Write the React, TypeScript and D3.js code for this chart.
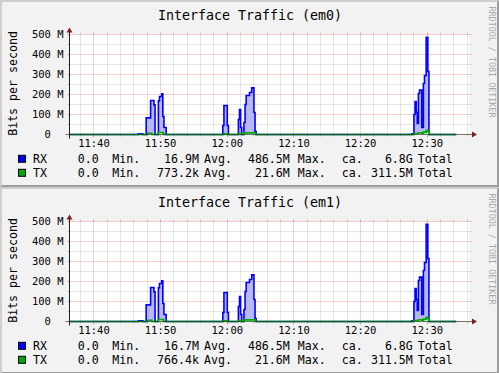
import React from 'react';
import * as d3 from 'd3';

// ---- data ----
const interfaceNames = ['em0', 'em1'];
const seriesNames = ['RX', 'TX'];
const em0Stats = [
  ['0.0', '16.9M', '486.5M', '6.8G'],
  ['0.0', '773.2k', '21.6M', '311.5M'],
];
const em1Stats = [
  ['0.0', '16.7M', '486.5M', '6.8G'],
  ['0.0', '766.4k', '21.6M', '311.5M'],
];
// step data: [time, Mbit/s]
const rxSteps: [string, number][] = [
  ['11:36:20', 0],
  ['11:46:40', 4], ['11:47:20', 0],
  ['11:47:50', 83], ['11:48:30', 170], ['11:49:00', 148], ['11:49:10', 0],
  ['11:49:40', 168], ['11:49:50', 190], ['11:50:10', 203], ['11:50:20', 90], ['11:50:30', 35], ['11:50:50', 0],
  ['11:59:20', 45], ['11:59:30', 145], ['12:00:00', 45], ['12:00:10', 0],
  ['12:01:40', 75], ['12:01:50', 125], ['12:02:00', 35], ['12:02:10', 0],
  ['12:02:30', 60], ['12:02:40', 150], ['12:02:50', 195], ['12:03:20', 210], ['12:03:40', 233], ['12:04:00', 110], ['12:04:10', 15], ['12:04:20', 0],
  ['12:27:40', 3], ['12:28:00', 100], ['12:28:10', 165], ['12:28:20', 110], ['12:28:30', 55], ['12:28:40', 205], ['12:28:50', 222], ['12:29:10', 35], ['12:29:25', 255], ['12:29:35', 295], ['12:29:50', 486.5], ['12:30:05', 315], ['12:30:15', 0],
  ['12:34:20', 0],
];
const txSteps: [string, number][] = [
  ['11:36:20', 0],
  ['11:48:05', 6], ['11:48:40', 0],
  ['11:49:40', 10], ['11:50:25', 0],
  ['11:59:30', 4], ['12:00:00', 0],
  ['12:01:40', 4], ['12:02:10', 0],
  ['12:02:30', 8], ['12:04:15', 0],
  ['12:28:00', 5], ['12:28:40', 9], ['12:29:10', 6], ['12:29:25', 12], ['12:29:50', 21.6], ['12:30:05', 15], ['12:30:15', 0],
  ['12:34:20', 0],
];
const yTicks = [0, 100, 200, 300, 400, 500];
const xTickLabels = ['11:40', '11:50', '12:00', '12:10', '12:20', '12:30'];
const timeRange = ['11:36:20', '12:36:20'];

// ---- layout ----
const W = 499;
const H = 373;
const GH = 187;
const X0 = 69.5, X1 = 469.5, Y0 = 134.5, YT = 34.5;
const FONT = '"DejaVu Sans Mono", monospace';

const parseT = d3.timeParse('%H:%M:%S');
const parseHM = d3.timeParse('%H:%M');

const COLORS = {
  back: '#f2f2f2',
  shadeA: '#cfcfcf',
  shadeB: '#9e9e9e',
  grid: 'rgba(143,143,143,0.45)',
  mgrid: 'rgba(222,79,79,0.5)',
  arrow: '#801f1f',
  axis: 'rgba(31,31,31,0.55)',
  rxLine: '#0000ff',
  rxFill: '#b8b8f6',
  txLine: '#00a800',
  txFill: '#b0f0b0',
};

const crisp = (v: number) => Math.floor(v) + 0.5;

function Graph({ oy, name, stats }: { oy: number; name: string; stats: string[][] }) {
  const x = d3.scaleTime().domain([parseT(timeRange[0])!, parseT(timeRange[1])!]).range([X0, X1]);
  const y = d3.scaleLinear().domain([0, 500]).range([Y0, YT]);
  const rx = rxSteps.map(([t, v]) => ({ t: parseT(t)!, v }));
  const tx = txSteps.map(([t, v]) => ({ t: parseT(t)!, v }));
  const area = d3.area<any>().x((d) => x(d.t)).y0(y(0)).y1((d) => y(d.v)).curve(d3.curveStepAfter);
  const line = d3.line<any>().x((d) => x(d.t)).y((d) => y(d.v)).curve(d3.curveStepAfter);

  const majorX = xTickLabels.map((s) => parseHM(s)!);
  const majorXs = majorX.map((d) => d.getTime());
  const minorX = d3.timeMinute
    .every(2)!
    .range(x.domain()[0], x.domain()[1])
    .filter((d) => !majorXs.includes(d.getTime()));
  const minorY = y.ticks(10).filter((v) => !yTicks.includes(v));

  const adv = 10.5 * 0.602;
  const colors = [COLORS.rxLine, COLORS.txLine];
  const legendY = [163.3, 177.3];

  return (
    <g transform={`translate(0,${oy})`}>
      {/* background with bevel */}
      <rect x={0} y={0} width={W} height={GH} fill={COLORS.back} />
      <path d={`M0,${GH} L2,${GH - 2} L2,2 L${W - 2},2 L${W},0 L0,0 Z`} fill={COLORS.shadeA} />
      <path d={`M2,${GH - 2} L${W - 2},${GH - 2} L${W - 2},2 L${W},0 L${W},${GH} L0,${GH} Z`} fill={COLORS.shadeB} />
      {/* canvas */}
      <rect x={X0} y={YT} width={X1 - X0} height={Y0 - YT} fill="#ffffff" />
      {/* minor grid */}
      {minorY.map((v) => (
        <g key={'my' + v}>
          <line x1={X0} x2={X1} y1={crisp(y(v))} y2={crisp(y(v))} stroke={COLORS.grid} strokeDasharray="1,1" />
          <line x1={X0 - 2} x2={X0} y1={crisp(y(v))} y2={crisp(y(v))} stroke={COLORS.grid} />
          <line x1={X1} x2={X1 + 2} y1={crisp(y(v))} y2={crisp(y(v))} stroke={COLORS.grid} />
        </g>
      ))}
      {minorX.map((d, i) => (
        <g key={'mx' + i}>
          <line x1={crisp(x(d))} x2={crisp(x(d))} y1={YT} y2={Y0} stroke={COLORS.grid} strokeDasharray="1,1" />
          <line x1={crisp(x(d))} x2={crisp(x(d))} y1={Y0} y2={Y0 + 2} stroke={COLORS.grid} />
          <line x1={crisp(x(d))} x2={crisp(x(d))} y1={YT - 2} y2={YT} stroke={COLORS.grid} />
        </g>
      ))}
      {/* major grid */}
      {yTicks.map((v) => (
        <g key={'My' + v}>
          <line x1={X0} x2={X1} y1={crisp(y(v))} y2={crisp(y(v))} stroke={COLORS.mgrid} strokeDasharray="1,1" />
          <line x1={X0 - 2} x2={X0} y1={crisp(y(v))} y2={crisp(y(v))} stroke={COLORS.mgrid} />
          <line x1={X1} x2={X1 + 2} y1={crisp(y(v))} y2={crisp(y(v))} stroke={COLORS.mgrid} />
        </g>
      ))}
      {majorX.map((d, i) => (
        <g key={'Mx' + i}>
          <line x1={crisp(x(d))} x2={crisp(x(d))} y1={YT} y2={Y0} stroke={COLORS.mgrid} strokeDasharray="1,1" />
          <line x1={crisp(x(d))} x2={crisp(x(d))} y1={Y0} y2={Y0 + 3} stroke={COLORS.mgrid} />
          <line x1={crisp(x(d))} x2={crisp(x(d))} y1={YT - 2} y2={YT} stroke={COLORS.mgrid} />
        </g>
      ))}
      {/* data */}
      <path d={area(rx)!} fill={COLORS.rxFill} />
      <path d={line(rx)!} fill="none" stroke={COLORS.rxLine} strokeWidth={1.6} />
      <path d={area(tx)!} fill={COLORS.txFill} />
      <path d={line(tx)!} fill="none" stroke={COLORS.txLine} strokeWidth={1.6} />
      {/* axes */}
      <line x1={X0 - 4} x2={X1 + 4} y1={Y0} y2={Y0} stroke={COLORS.axis} strokeWidth={1} />
      <line x1={X0} x2={X0} y1={Y0 + 4} y2={YT - 4} stroke="#1f1f1f" strokeWidth={1} />
      <path d={`M${X1 + 2.5},${Y0 - 3} L${X1 + 2.5},${Y0 + 3} L${X1 + 7.5},${Y0} Z`} fill={COLORS.arrow} />
      <path d={`M${X0 - 3},${YT - 2} L${X0 + 3},${YT - 2} L${X0},${YT - 7} Z`} fill={COLORS.arrow} />
      {/* y tick labels */}
      {yTicks.map((v) => (
        <text
          key={'yl' + v}
          x={v === 0 ? 63.5 - 2 * adv : 63.5}
          y={y(v) + 3.8}
          textAnchor="end"
          fontFamily={FONT}
          fontSize={10.5}
          fill="#000"
        >
          {v === 0 ? '0' : `${v} M`}
        </text>
      ))}
      {/* x tick labels */}
      {majorX.map((d, i) => (
        <text key={'xl' + i} x={x(d)} y={146.6} textAnchor="middle" fontFamily={FONT} fontSize={10.5} fill="#000">
          {xTickLabels[i]}
        </text>
      ))}
      {/* title */}
      <text x={250} y={19.5} textAnchor="middle" fontFamily={FONT} fontSize={13.3} fill="#000">
        {`Interface Traffic (${name})`}
      </text>
      {/* vertical label */}
      <text
        transform={`translate(16.5,83.5) rotate(-90)`}
        textAnchor="middle"
        fontFamily={FONT}
        fontSize={11.6}
        fill="#000"
      >
        Bits per second
      </text>
      {/* watermark */}
      <text
        transform={`translate(488.5,62) rotate(90)`}
        textAnchor="middle"
        fontFamily={FONT}
        fontSize={8.4}
        fill="#a8a8a8"
      >
        RRDTOOL / TOBI OETIKER
      </text>
      {/* legend */}
      {seriesNames.map((s, i) => (
        <g key={'lg' + s} fontFamily={FONT} fontSize={11.6} fill="#000">
          <rect x={18.5} y={legendY[i] - 8} width={7} height={7} fill={colors[i]} stroke="#000" strokeWidth={1} />
          <text x={33} y={legendY[i]}>{s}</text>
          <text x={98.8} y={legendY[i]} textAnchor="end">{stats[i][0]}</text>
          <text x={112.3} y={legendY[i]}>Min.</text>
          <text x={199} y={legendY[i]} textAnchor="end">{stats[i][1]}</text>
          <text x={204} y={legendY[i]}>Avg.</text>
          <text x={289.8} y={legendY[i]} textAnchor="end">{stats[i][2]}</text>
          <text x={297.8} y={legendY[i]}>Max.</text>
          <text x={341.8} y={legendY[i]}>ca.</text>
          <text x={412.8} y={legendY[i]} textAnchor="end">{stats[i][3]}</text>
          <text x={417.8} y={legendY[i]}>Total</text>
        </g>
      ))}
    </g>
  );
}

export default function App() {
  const allStats = [em0Stats, em1Stats];
  return (
    <svg
      width={W}
      height={H}
      viewBox={`0 0 ${W} ${H}`}
      style={{ position: 'absolute', left: 0, top: 0, display: 'block' }}
    >
      <rect x={0} y={0} width={W} height={H} fill="#f2f2f2" />
      {interfaceNames.map((n, i) => (
        <Graph key={n} oy={i * GH} name={n} stats={allStats[i]} />
      ))}
    </svg>
  );
}
